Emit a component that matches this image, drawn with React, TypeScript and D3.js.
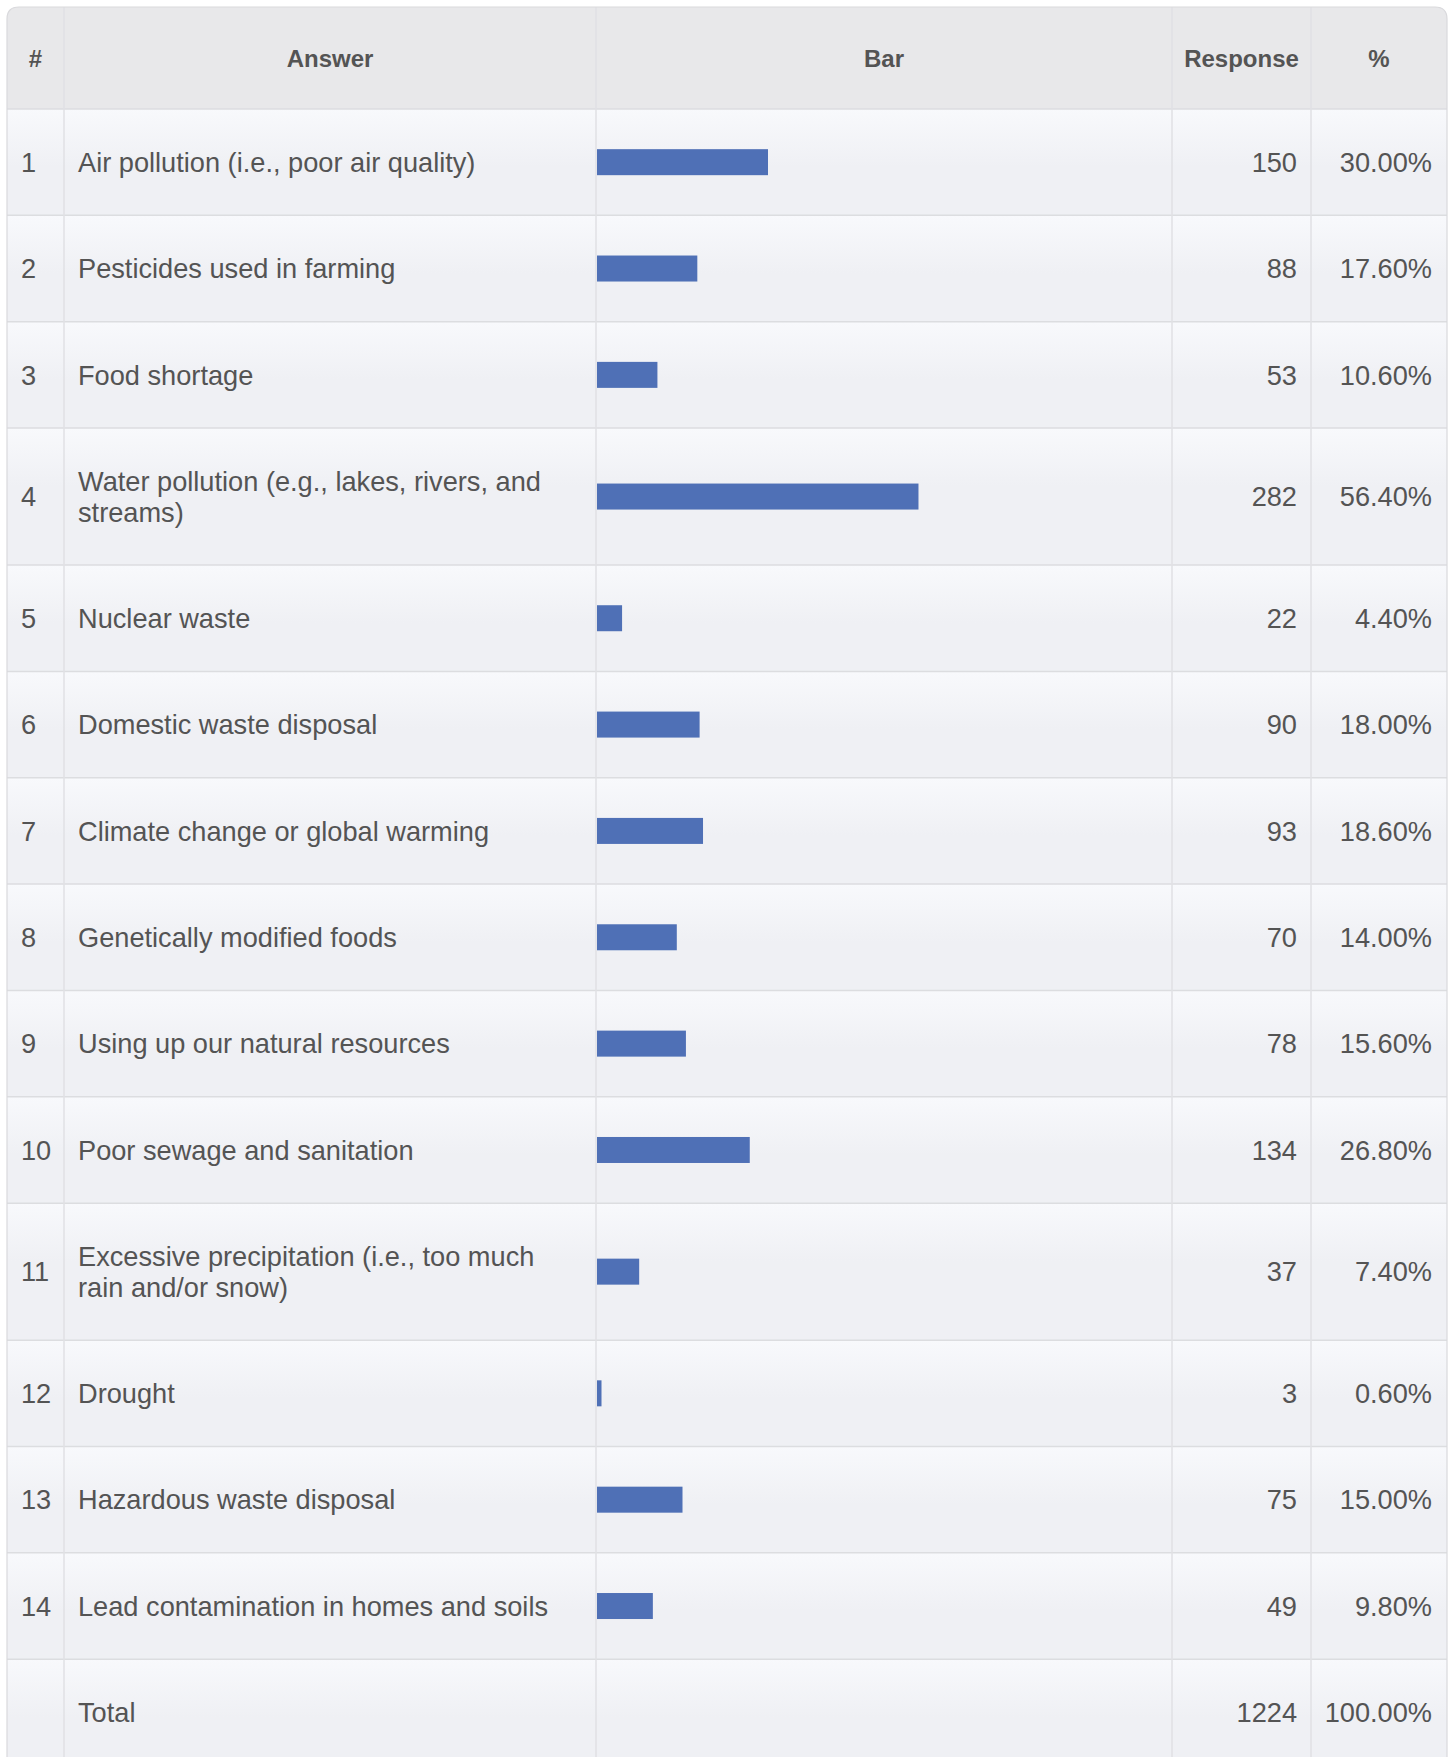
import React from "react";
import * as d3 from "d3";

const headers = ["#", "Answer", "Bar", "Response", "%"];
const answers = [
  "Air pollution (i.e., poor air quality)",
  "Pesticides used in farming",
  "Food shortage",
  "Water pollution (e.g., lakes, rivers, and streams)",
  "Nuclear waste",
  "Domestic waste disposal",
  "Climate change or global warming",
  "Genetically modified foods",
  "Using up our natural resources",
  "Poor sewage and sanitation",
  "Excessive precipitation (i.e., too much rain and/or snow)",
  "Drought",
  "Hazardous waste disposal",
  "Lead contamination in homes and soils",
];
const responses = [150, 88, 53, 282, 22, 90, 93, 70, 78, 134, 37, 3, 75, 49];
const percents = [
  "30.00%", "17.60%", "10.60%", "56.40%", "4.40%", "18.00%", "18.60%",
  "14.00%", "15.60%", "26.80%", "7.40%", "0.60%", "15.00%", "9.80%",
];
const totalLabel = "Total";
const totalResponse = 1224;
const totalPercent = "100.00%";
const respondents = 500;

const W = 1452;
const H = 1757;
const FONT = "'Liberation Sans', Arial, Helvetica, sans-serif";
const BODY_FS = 27.2;
const HEAD_FS = 24;
const LINE_H = 31;
const TEXT_COLOR = "#545454";
const BAR_COLOR = "#4f70b6";

const colEdges = [7, 64, 596, 1172, 1311, 1447];
const tableTop = 7;
const headerBottom = 109;

function wrap(text: string, maxW: number): string[] {
  const canvas = document.createElement("canvas");
  const ctx = canvas.getContext("2d")!;
  ctx.font = `${BODY_FS}px 'Liberation Sans', Arial, sans-serif`;
  const words = text.split(" ");
  const lines: string[] = [];
  let cur = "";
  for (const w of words) {
    const t = cur ? cur + " " + w : w;
    if (ctx.measureText(t).width > maxW && cur) {
      lines.push(cur);
      cur = w;
    } else cur = t;
  }
  if (cur) lines.push(cur);
  return lines;
}

export default function App() {
  const answerMaxW = 490;
  const rows = answers.map((a, i) => ({
    num: String(i + 1),
    lines: wrap(a, answerMaxW),
    value: responses[i] as number | null,
    resp: String(responses[i]),
    pct: percents[i],
  }));
  rows.push({ num: "", lines: [totalLabel], value: null, resp: String(totalResponse), pct: totalPercent });

  let y = headerBottom;
  const laid = rows.map((r) => {
    const h = 75.7 + 30.65 * r.lines.length;
    const o = { ...r, y0: y, h };
    y += h;
    return o;
  });
  const tableBottom = y;

  const x = d3.scaleLinear().domain([0, respondents]).range([0, 570]);
  const barX0 = colEdges[2] + 1;
  const barH = 26;

  const headerCenters = headers.map((_, i) => (colEdges[i] + colEdges[i + 1]) / 2);
  const r = 12;
  const L = colEdges[0];
  const R = colEdges[5];
  const outline = `M${L},${tableBottom} L${L},${tableTop + r} Q${L},${tableTop} ${L + r},${tableTop} L${R - r},${tableTop} Q${R},${tableTop} ${R},${tableTop + r} L${R},${tableBottom}`;

  return (
    <svg
      width={W}
      height={H}
      style={{ position: "absolute", left: 0, top: 0, background: "#fff" }}
      fontFamily={FONT}
    >
      <defs>
        <linearGradient id="rowGrad" x1="0" y1="0" x2="0" y2="1">
          <stop offset="0" stopColor="#f8f9fc" />
          <stop offset="1" stopColor="#eff0f4" />
        </linearGradient>
        <clipPath id="tableClip">
          <path d={outline + " Z"} />
        </clipPath>
      </defs>
      <g clipPath="url(#tableClip)">
        <rect x={L} y={tableTop} width={R - L} height={headerBottom - tableTop} fill="#e8e8ea" />
        {laid.map((row, i) => (
          <g key={"bg" + i}>
            <rect x={L} y={row.y0} width={R - L} height={row.h} fill="#eff0f4" />
            <rect x={L} y={row.y0} width={R - L} height={58} fill="url(#rowGrad)" />
          </g>
        ))}
        {laid.map((row, i) => (
          <line key={"hl" + i} x1={L} x2={R} y1={row.y0} y2={row.y0} stroke="#dcdde0" strokeWidth={1.5} />
        ))}
        {colEdges.slice(1, 5).map((cx, i) => (
          <line key={"vl" + i} x1={cx} x2={cx} y1={tableTop} y2={tableBottom} stroke="#e0e1e4" strokeWidth={1.5} />
        ))}
      </g>
      <path d={outline} fill="none" stroke="#d9d9dc" strokeWidth={1.2} />

      {headers.map((h, i) => (
        <text
          key={"h" + i}
          x={headerCenters[i]}
          y={(tableTop + headerBottom) / 2 + HEAD_FS * 0.36}
          textAnchor="middle"
          fontSize={HEAD_FS}
          fontWeight="bold"
          fill={TEXT_COLOR}
        >
          {h}
        </text>
      ))}

      {laid.map((row, i) => {
        const cy = row.y0 + row.h / 2;
        const base = cy + BODY_FS * 0.355;
        const n = row.lines.length;
        return (
          <g key={"r" + i} fontSize={BODY_FS} fill={TEXT_COLOR}>
            <text x={21} y={base}>{row.num}</text>
            {row.lines.map((ln, k) => (
              <text key={k} x={78} y={base + (k - (n - 1) / 2) * LINE_H}>
                {ln}
              </text>
            ))}
            {row.value !== null && (
              <rect x={barX0} y={cy - barH / 2} width={Math.max(x(row.value), 4.5)} height={barH} fill={BAR_COLOR} />
            )}
            <text x={colEdges[4] - 14} y={base} textAnchor="end">{row.resp}</text>
            <text x={colEdges[5] - 15} y={base} textAnchor="end">{row.pct}</text>
          </g>
        );
      })}
    </svg>
  );
}
